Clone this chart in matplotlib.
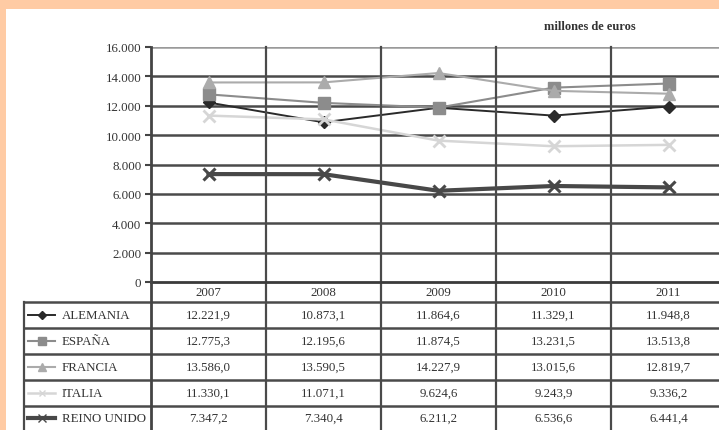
import matplotlib
matplotlib.use('Agg')
import matplotlib.pyplot as plt
from matplotlib.lines import Line2D
from matplotlib.patches import Rectangle
from matplotlib.transforms import blended_transform_factory
from matplotlib.ticker import FuncFormatter

plt.rcParams['font.family'] = ['Liberation Serif', 'DejaVu Serif']

# Data (millones de euros)
years = ['2007', '2008', '2009', '2010', '2011']
countries = ['ALEMANIA', 'ESPAÑA', 'FRANCIA', 'ITALIA', 'REINO UNIDO']
alemania = [12221.9, 10873.1, 11864.6, 11329.1, 11948.8]
espana = [12775.3, 12195.6, 11874.5, 13231.5, 13513.8]
francia = [13586.0, 13590.5, 14227.9, 13015.6, 12819.7]
italia = [11330.1, 11071.1, 9624.6, 9243.9, 9336.2]
reino_unido = [7347.2, 7340.4, 6211.2, 6536.6, 6441.4]
series = [alemania, espana, francia, italia, reino_unido]

# styles per series
styles = [
    dict(color='#2a2a2a', lw=1.4, marker='D', ms=6.5, mew=1),
    dict(color='#8c8c8c', lw=1.5, marker='s', ms=8.5, mew=1),
    dict(color='#ababab', lw=1.5, marker='^', ms=8.5, mew=1),
    dict(color='#d6d6d6', lw=1.8, marker='x', ms=8, mew=2),
    dict(color='#484848', lw=3.0, marker='x', ms=9, mew=2.2),
]

W, H = 719, 431
FS = 9.3
TXT = '#333333'
fig = plt.figure(figsize=(W / 100, H / 100), dpi=100, facecolor='#FFCBA4')
fig.add_artist(Rectangle((6 / W, 0), 1, (H - 10) / H, transform=fig.transFigure,
                         facecolor='white', edgecolor='none', zorder=0))

def fx(px):
    return px / W

def fy(py):
    return 1 - py / H

x0, col_w = 151, 115
y_top, y_zero = 48, 283
ax = fig.add_axes([fx(x0), fy(y_zero), fx(col_w * len(years)), (y_zero - y_top) / H])
ax.set_facecolor('none')
ax.set_xlim(-0.5, len(years) - 0.5)
ax.set_ylim(0, 16000)
ax.set_yticks(range(0, 16001, 2000))
ax.yaxis.set_major_formatter(FuncFormatter(lambda v, p: f'{int(v):,}'.replace(',', '.')))
ax.set_xticks([])
for s in ['top', 'right', 'bottom']:
    ax.spines[s].set_visible(False)
ax.spines['left'].set_color('#444444')
ax.spines['left'].set_linewidth(2)
ax.tick_params(axis='y', length=4, width=1.5, color='#444444', labelsize=FS,
               labelcolor=TXT, pad=3)

# gridlines
for v in range(2000, 16001, 2000):
    c = '#9a9a9a' if v == 16000 else '#4a4a4a'
    ax.axhline(v, color=c, lw=1.8, zorder=1)

# series
xs = list(range(len(years)))
for vals, st in zip(series, styles):
    ax.plot(xs, vals, color=st['color'], lw=st['lw'], marker=st['marker'],
            ms=st['ms'], mew=st['mew'], mfc=st['color'], mec=st['color'], zorder=3)

# vertical column lines through chart and table
for i in range(1, len(years) + 1):
    fig.add_artist(Line2D([fx(x0 + col_w * i)] * 2, [fy(y_top), 0],
                          transform=fig.transFigure, color='#4a4a4a', lw=1.6))

# table lines
row_lines = [303, 329, 355, 381, 407]
fig.add_artist(Line2D([fx(x0), 1], [fy(y_zero)] * 2, transform=fig.transFigure,
                      color='#3a3a3a', lw=2))
for ry in row_lines:
    fig.add_artist(Line2D([fx(24), 1], [fy(ry)] * 2, transform=fig.transFigure,
                          color='#4a4a4a', lw=1.8))
fig.add_artist(Line2D([fx(24)] * 2, [fy(303), 0], transform=fig.transFigure,
                      color='#4a4a4a', lw=1.6))
fig.add_artist(Line2D([fx(x0)] * 2, [fy(y_zero), 0], transform=fig.transFigure,
                      color='#444444', lw=2))

def fmt_es(v):
    return f'{v:,.1f}'.replace(',', 'X').replace('.', ',').replace('X', '.')

tr = blended_transform_factory(ax.transData, fig.transFigure)
for i, yr in enumerate(years):
    fig.text(i, fy(293), yr, transform=tr, ha='center', va='center',
             fontsize=FS, color=TXT)

row_centers = [316, 342, 368, 394, 419]
for name, vals, st, ry in zip(countries, series, styles, row_centers):
    for i, v in enumerate(vals):
        fig.text(i, fy(ry), fmt_es(v), transform=tr, ha='center', va='center',
                 fontsize=FS, color=TXT)
    fig.add_artist(Line2D([fx(28), fx(55)], [fy(ry)] * 2, transform=fig.transFigure,
                          color=st['color'], lw=st['lw']))
    fig.add_artist(Line2D([fx(41.5)], [fy(ry)], transform=fig.transFigure,
                          color=st['color'], marker=st['marker'], ms=st['ms'] * 0.6,
                          mew=1, mfc=st['color'], mec=st['color'], lw=0))
    fig.text(fx(62), fy(ry), name, ha='left', va='center', fontsize=FS, color=TXT)

fig.text(fx(590), fy(27), 'millones de euros', ha='center', va='center',
         fontsize=9, fontweight='bold', color=TXT)

fig.savefig('out.png', dpi=100, facecolor=fig.get_facecolor())
